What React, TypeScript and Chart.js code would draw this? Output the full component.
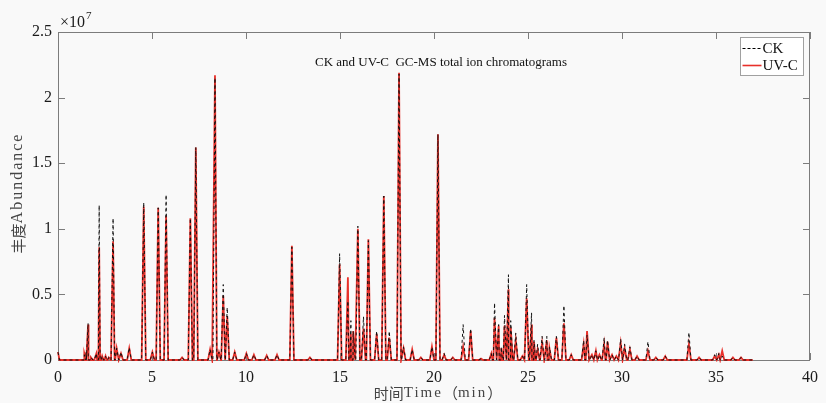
import React, { useEffect, useRef } from "react";
import { Chart, registerables } from "chart.js";

Chart.register(...registerables);

// Retention times (min) of the peaks
const peakTimes = [
  1.4, 1.5, 1.6, 1.75, 2.04, 2.19, 2.35, 2.53, 2.7, 2.93, 3.12, 3.35, 3.79,
  4.56, 5.02, 5.33, 5.75, 6.6, 7.04, 7.33, 8.09, 8.35, 8.56, 8.79, 9.0, 9.4,
  10.02, 10.42, 11.1, 11.65, 12.44, 13.4, 14.98, 15.42, 15.58, 15.7, 15.95,
  16.25, 16.51, 16.95, 17.33, 17.62, 18.14, 18.38, 18.84, 19.3, 19.89, 20.21,
  20.54, 21.0, 21.55, 21.95, 22.5, 23.05, 23.22, 23.44, 23.58, 23.75, 23.96,
  24.08, 24.35, 24.7, 24.93, 25.19, 25.32, 25.51, 25.75, 26.0, 26.14, 26.51,
  26.91, 27.3, 27.96, 28.14, 28.4, 28.61, 28.8, 29.05, 29.23, 29.47, 29.7,
  29.93, 30.14, 30.42, 30.8, 31.38, 31.8, 32.3, 33.56, 34.1, 34.93, 35.15,
  35.33, 35.9, 36.33,
];

// Peak abundances (x 10^7)
const ckHeights = [
  0.04, 0.06, 0.28, 0.02, 0.05, 1.18, 0.03, 0.03, 0.02, 1.08, 0.09, 0.06, 0.095,
  1.2, 0.06, 1.16, 1.26, 0.02, 1.08, 1.62, 0.08, 2.15, 0.06, 0.575, 0.4, 0.06,
  0.05, 0.04, 0.035, 0.04, 0.86, 0.02, 0.81, 0.45, 0.3, 0.22, 1.02,
  0.33, 0.91, 0.22, 1.25, 0.22, 2.18, 0.1, 0.08, 0.02, 0.1, 1.72,
  0.05, 0.02, 0.27, 0.24, 0.01, 0.05, 0.435, 0.27, 0.1, 0.34, 0.65,
  0.3, 0.205, 0.03, 0.575, 0.36, 0.15, 0.12, 0.18, 0.18, 0.1, 0.18,
  0.415, 0.04, 0.15, 0.19, 0.04, 0.07, 0.04, 0.17, 0.15, 0.04, 0.03,
  0.16, 0.12, 0.1, 0.03, 0.14, 0.02, 0.03, 0.21, 0.02, 0.04, 0.05,
  0.03, 0.02, 0.02,
];

const uvHeights = [
  0.05, 0.06, 0.27, 0.02, 0.05, 0.86, 0.03, 0.03, 0.02, 0.905, 0.09, 0.05, 0.09,
  1.17, 0.06, 1.16, 1.1, 0.02, 1.08, 1.62, 0.08, 2.17, 0.06, 0.49, 0.335, 0.06,
  0.05, 0.04, 0.035, 0.04, 0.87, 0.02, 0.73, 0.63, 0.2, 0.22, 1.0,
  0.24, 0.92, 0.2, 1.25, 0.17, 2.19, 0.09, 0.08, 0.02, 0.1, 1.72,
  0.04, 0.02, 0.1, 0.22, 0.01, 0.05, 0.32, 0.26, 0.09, 0.26, 0.54,
  0.25, 0.15, 0.03, 0.47, 0.27, 0.14, 0.08, 0.13, 0.15, 0.09, 0.17,
  0.28, 0.04, 0.12, 0.22, 0.04, 0.07, 0.04, 0.12, 0.14, 0.04, 0.03,
  0.13, 0.09, 0.08, 0.03, 0.07, 0.02, 0.03, 0.12, 0.02, 0.03, 0.04,
  0.07, 0.02, 0.02,
];

const startLevel = 0.06; // abundance at t = 0
const startDrop = 0.08; // time where it returns to the baseline
const runEnd = 36.95; // last recorded time (min)
const peakHalfWidth = 0.11; // min, half the base width of each peak

const xTicks = [0, 5, 10, 15, 20, 25, 30, 35, 40];
const yTicks = [0, 0.5, 1, 1.5, 2, 2.5];

const seriesNames = ["CK", "UV-C"];
const titleText = "CK and UV-C  GC-MS total ion chromatograms";
const xTitleParts = ["时间", "Time", "（", "min", "）"];
const yTitleParts = ["丰度", "Abundance"];

const RED = "#e8302a";

function buildSeries(heights: number[]) {
  const pts: { x: number; y: number }[] = [
    { x: 0, y: startLevel },
    { x: startDrop, y: 0 },
  ];
  peakTimes.forEach((t, i) => {
    pts.push({ x: t - peakHalfWidth, y: 0 });
    pts.push({ x: t, y: heights[i] });
    pts.push({ x: t + peakHalfWidth, y: 0 });
  });
  pts.push({ x: runEnd, y: 0 });
  pts.sort((a, b) => a.x - b.x);
  return pts;
}

const SERIF = '"Liberation Serif", "Noto Sans CJK SC", serif';
const CJK = '"Noto Sans CJK SC", sans-serif';

function drawParts(
  ctx: any,
  parts: { text: string; font: string; spacing: number }[],
  cx: number,
  cy: number
) {
  const widths = parts.map((p) => {
    ctx.font = p.font;
    ctx.letterSpacing = p.spacing + "px";
    return ctx.measureText(p.text).width;
  });
  const total = widths.reduce((a: number, b: number) => a + b, 0);
  let x = cx - total / 2;
  ctx.textAlign = "left";
  ctx.textBaseline = "middle";
  parts.forEach((p, i) => {
    ctx.font = p.font;
    ctx.letterSpacing = p.spacing + "px";
    ctx.fillText(p.text, x, cy);
    x += widths[i];
  });
  ctx.letterSpacing = "0px";
}

const decorPlugin = {
  id: "decor",
  beforeDatasetsDraw(chart: any) {
    const { ctx, chartArea, scales } = chart;
    const { left, right, top, bottom } = chartArea;
    ctx.save();
    ctx.strokeStyle = "#7c7c7c";
    ctx.lineWidth = 1;
    ctx.strokeRect(left + 0.5, top + 0.5, right - left - 1, bottom - top);
    const tl = 7;
    ctx.beginPath();
    xTicks.forEach((v) => {
      const px = Math.round(scales.x.getPixelForValue(v)) + 0.5;
      ctx.moveTo(px, bottom);
      ctx.lineTo(px, bottom - tl);
      ctx.moveTo(px, top);
      ctx.lineTo(px, top + tl);
    });
    yTicks.forEach((v) => {
      const py = Math.round(scales.y.getPixelForValue(v)) + 0.5;
      ctx.moveTo(left, py);
      ctx.lineTo(left + tl, py);
      ctx.moveTo(right, py);
      ctx.lineTo(right - tl, py);
    });
    ctx.stroke();
    ctx.restore();
  },
  afterDraw(chart: any) {
    const { ctx, chartArea } = chart;
    const { left, right, top, bottom } = chartArea;
    ctx.save();
    // exponent
    ctx.fillStyle = "#1a1a1a";
    ctx.textBaseline = "middle";
    ctx.textAlign = "left";
    ctx.font = `16px ${SERIF}`;
    ctx.fillText("×10", left + 2, top - 9);
    const w = ctx.measureText("×10").width;
    ctx.font = `11px ${SERIF}`;
    ctx.fillText("7", left + 3 + w, top - 16);

    // title
    ctx.font = `13px ${SERIF}`;
    ctx.textAlign = "center";
    ctx.fillStyle = "#111";
    ctx.fillText(titleText, 441, top + 31);

    // axis titles
    ctx.fillStyle = "#444";
    drawParts(
      ctx,
      [
        { text: xTitleParts[0], font: `15px ${CJK}`, spacing: 0 },
        { text: xTitleParts[1], font: `15px ${SERIF}`, spacing: 2 },
        { text: xTitleParts[2], font: `15px ${CJK}`, spacing: 0 },
        { text: xTitleParts[3], font: `15px ${SERIF}`, spacing: 2 },
        { text: xTitleParts[4], font: `15px ${CJK}`, spacing: 0 },
      ],
      438,
      bottom + 33
    );
    ctx.save();
    ctx.translate(18, 193);
    ctx.rotate(-Math.PI / 2);
    drawParts(
      ctx,
      [
        { text: yTitleParts[0], font: `15px ${CJK}`, spacing: 0 },
        { text: yTitleParts[1], font: `16px ${SERIF}`, spacing: 2 },
      ],
      0,
      0
    );
    ctx.restore();

    // legend
    const bx = right - 69.5;
    const by = top + 5.5;
    const bw = 63;
    const bh = 38;
    ctx.fillStyle = "#ffffff";
    ctx.fillRect(bx, by, bw, bh);
    ctx.strokeStyle = "#a0a0a0";
    ctx.lineWidth = 1;
    ctx.strokeRect(bx, by, bw, bh);
    const rows = [by + 11, by + 28];
    ctx.lineWidth = 1;
    ctx.strokeStyle = "#000";
    ctx.setLineDash([3, 2]);
    ctx.beginPath();
    ctx.moveTo(bx + 2, rows[0]);
    ctx.lineTo(bx + 21, rows[0]);
    ctx.stroke();
    ctx.setLineDash([]);
    ctx.strokeStyle = RED;
    ctx.lineWidth = 1.6;
    ctx.beginPath();
    ctx.moveTo(bx + 2, rows[1]);
    ctx.lineTo(bx + 21, rows[1]);
    ctx.stroke();
    ctx.fillStyle = "#111";
    ctx.textAlign = "left";
    ctx.textBaseline = "middle";
    ctx.font = `15px ${SERIF}`;
    ctx.fillText(seriesNames[0], bx + 22, rows[0] + 1);
    ctx.fillText(seriesNames[1], bx + 22, rows[1] + 1);
    ctx.restore();
  },
};

export default function App() {
  const ref = useRef<HTMLCanvasElement | null>(null);
  useEffect(() => {
    if (!ref.current) return;
    const chart = new Chart(ref.current, {
      type: "line",
      data: {
        datasets: [
          {
            label: seriesNames[0],
            data: buildSeries(ckHeights),
            borderColor: "#111111",
            borderWidth: 1,
            borderDash: [3, 3],
            pointRadius: 0,
            tension: 0,
            clip: 3,
          },
          {
            label: seriesNames[1],
            data: buildSeries(uvHeights),
            borderColor: RED,
            borderWidth: 1.8,
            pointRadius: 0,
            tension: 0,
            clip: 3,
          },
        ],
      },
      plugins: [decorPlugin],
      options: {
        animation: false,
        responsive: false,
        devicePixelRatio: 1,
        layout: { padding: { top: 32, right: 8, left: 0, bottom: 0 } },
        plugins: {
          legend: { display: false },
          tooltip: { enabled: false },
          title: { display: false },
        },
        scales: {
          x: {
            type: "linear",
            min: 0,
            max: 40,
            afterFit: (s: any) => {
              s.height = 43;
            },
            afterBuildTicks: (s: any) => {
              s.ticks = xTicks.map((v) => ({ value: v }));
            },
            grid: { display: false, drawTicks: false },
            border: { display: false },
            ticks: {
              padding: 8,
              color: "#1a1a1a",
              font: { family: SERIF, size: 16 },
              maxRotation: 0,
              callback: (v: any) => String(v),
            },
          },
          y: {
            type: "linear",
            min: 0,
            max: 2.5,
            afterFit: (s: any) => {
              s.width = 58;
            },
            afterBuildTicks: (s: any) => {
              s.ticks = yTicks.map((v) => ({ value: v }));
            },
            grid: { display: false, drawTicks: false },
            border: { display: false },
            ticks: {
              padding: 6,
              color: "#1a1a1a",
              font: { family: SERIF, size: 16 },
              callback: (v: any) => String(v),
            },
          },
        },
      },
    });
    return () => chart.destroy();
  }, []);

  return (
    <div
      style={{
        position: "fixed",
        left: 0,
        top: 0,
        width: 826,
        height: 403,
        background: "#f9f9f9",
      }}
    >
      <canvas
        ref={ref}
        width={826}
        height={403}
        style={{ width: 826, height: 403, display: "block" }}
      />
    </div>
  );
}
